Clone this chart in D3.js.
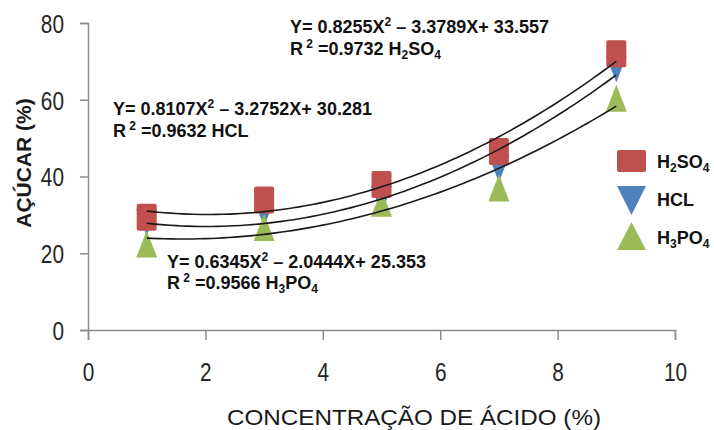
<!DOCTYPE html>
<html>
<head>
<meta charset="utf-8">
<script src="https://cdn.jsdelivr.net/npm/d3@7"></script>
<style>
  html, body { margin: 0; padding: 0; background: #fff; }
  svg { display: block; }
</style>
</head>
<body>
<svg id="chart" width="714" height="430"></svg>
<script>
// ---- data ----
const concentrations = [1, 3, 5, 7, 9];
const h2so4 = [29.4, 33.9, 37.9, 46.5, 72.0];
const hcl = [28.0, 30.5, 34.0, 42.0, 68.0];
const h3po4 = [22.4, 26.7, 33.0, 37.0, 60.4];
const coefH2SO4 = [0.8255, -3.3789, 33.557];
const coefHCL = [0.8107, -3.2752, 30.281];
const coefH3PO4 = [0.6345, -2.0444, 25.353];
const xTicks = [0, 2, 4, 6, 8, 10];
const yTicks = [0, 20, 40, 60, 80];
const xTitle = "CONCENTRAÇÃO DE ÁCIDO (%)";
const yTitle = "AÇÚCAR (%)";

const svg = d3.select("#chart");
const x = d3.scaleLinear().domain([0, 10]).range([88, 675]);
const y = d3.scaleLinear().domain([0, 80]).range([330, 23]);

const axisColor = "#8c8c8c";
const tickFont = "'Liberation Sans', Arial, sans-serif";
const narrow = 0.8;

// y axis
const yAxis = svg.append("g").attr("transform", `translate(${x(0)},0)`)
  .call(d3.axisLeft(y).tickValues(yTicks).tickSize(8).tickPadding(16));
yAxis.select(".domain").attr("stroke", axisColor).attr("stroke-width", 1.5);
yAxis.selectAll(".tick line").attr("stroke", axisColor).attr("stroke-width", 1.5);
yAxis.selectAll(".tick text").attr("font-family", tickFont).attr("font-size", 26)
  .attr("fill", "#262626").attr("dy", "0.36em")
  .attr("x", -24 / narrow).attr("transform", `scale(${narrow},1)`);

// x axis
const xAxis = svg.append("g").attr("transform", `translate(0,${y(0)})`)
  .call(d3.axisBottom(x).tickValues(xTicks).tickSize(10).tickPadding(23));
xAxis.select(".domain").attr("stroke", axisColor).attr("stroke-width", 1.5);
xAxis.selectAll(".tick line").attr("stroke", axisColor).attr("stroke-width", 1.5);
xAxis.selectAll(".tick text").attr("font-family", tickFont).attr("font-size", 26)
  .attr("fill", "#262626").attr("transform", `scale(${narrow},1)`);

// axis titles
svg.append("text").attr("transform", "translate(31,163) rotate(-90)")
  .attr("text-anchor", "middle").attr("font-family", "'Liberation Sans', Arial, sans-serif")
  .attr("font-weight", "bold").attr("font-size", 21).attr("fill", "#1a1a1a").text(yTitle);

svg.append("text").attr("x", 227).attr("y", 425)
  .attr("font-family", tickFont).attr("font-size", 22).attr("fill", "#1a1a1a")
  .attr("textLength", 374).attr("lengthAdjust", "spacingAndGlyphs").text(xTitle);

// markers
const colors = { h2so4: "#c0504d", hcl: "#4f81bd", h3po4: "#9bbb59" };
const mw = 21, mh = 27;
const triDown = (cx, cy, w, h) => `M${cx - w/2},${cy - h/2}L${cx + w/2},${cy - h/2}L${cx},${cy + h/2}Z`;
const triUp = (cx, cy, w, h) => `M${cx - w/2},${cy + h/2}L${cx + w/2},${cy + h/2}L${cx},${cy - h/2}Z`;

svg.append("g").selectAll("path").data(concentrations.map((c, i) => [c, hcl[i]])).join("path")
  .attr("d", d => triDown(x(d[0]), y(d[1]), mw, mh)).attr("fill", colors.hcl);
svg.append("g").selectAll("path").data(concentrations.map((c, i) => [c, h3po4[i]])).join("path")
  .attr("d", d => triUp(x(d[0]), y(d[1]), mw, mh)).attr("fill", colors.h3po4);
svg.append("g").selectAll("rect").data(concentrations.map((c, i) => [c, h2so4[i]])).join("rect")
  .attr("x", d => x(d[0]) - 10).attr("y", d => y(d[1]) - mh/2)
  .attr("width", 20).attr("height", mh).attr("rx", 2).attr("fill", colors.h2so4);

// trendlines
const line = d3.line().x(d => x(d[0])).y(d => y(d[1])).curve(d3.curveLinear);
[coefH2SO4, coefHCL, coefH3PO4].forEach(c => {
  const pts = d3.range(1, 9.001, 0.1).map(t => [t, c[0] * t * t + c[1] * t + c[2]]);
  svg.append("path").datum(pts).attr("d", line).attr("fill", "none")
    .attr("stroke", "#1a1a1a").attr("stroke-width", 1.6);
});

// equations
const eqFont = "'Liberation Sans', Arial, sans-serif";
function equation(x0, yb1, yb2, coef, name) {
  const g = svg.append("g").attr("font-family", eqFont).attr("font-size", 18)
    .attr("font-weight", "bold").attr("fill", "#111");
  const t1 = g.append("text").attr("x", x0).attr("y", yb1);
  t1.append("tspan").text(`Y= ${coef[0]}X`);
  t1.append("tspan").attr("font-size", 12).attr("dy", -7).text("2");
  t1.append("tspan").attr("dy", 7).text(` – ${Math.abs(coef[1])}X+ ${coef[2]}`);
  const t2 = g.append("text").attr("x", x0).attr("y", yb2);
  t2.append("tspan").text("R");
  t2.append("tspan").attr("font-size", 12).attr("dy", -7).text(" 2");
  t2.append("tspan").attr("dy", 7).text(` =${name.r2} `);
  name.parts.forEach(p => {
    if (p.sub) t2.append("tspan").attr("font-size", 12).attr("dy", 4).text(p.t);
    else t2.append("tspan").attr("dy", p.after ? -4 : 0).text(p.t);
  });
}
equation(290, 33, 55, coefH2SO4, { r2: "0.9732", parts: [{t: "H"}, {t: "2", sub: true}, {t: "SO", after: true}, {t: "4", sub: true}] });
equation(113, 115, 137, coefHCL, { r2: "0.9632", parts: [{t: "HCL"}] });
equation(167, 268, 289, coefH3PO4, { r2: "0.9566", parts: [{t: "H"}, {t: "3", sub: true}, {t: "PO", after: true}, {t: "4", sub: true}] });

// legend
const lg = svg.append("g");
lg.append("rect").attr("x", 617).attr("y", 150).attr("width", 29).attr("height", 22).attr("rx", 2).attr("fill", colors.h2so4);
lg.append("path").attr("d", triDown(631.5, 200.5, 29, 29)).attr("fill", colors.hcl);
lg.append("path").attr("d", triUp(631.5, 236, 29, 28)).attr("fill", colors.h3po4);
const legendItems = [
  { y: 168, parts: [{t: "H"}, {t: "2", sub: true}, {t: "SO", after: true}, {t: "4", sub: true}] },
  { y: 206, parts: [{t: "HCL"}] },
  { y: 244, parts: [{t: "H"}, {t: "3", sub: true}, {t: "PO", after: true}, {t: "4", sub: true}] }
];
legendItems.forEach(it => {
  const t = lg.append("text").attr("x", 657).attr("y", it.y).attr("font-family", eqFont)
    .attr("font-size", 18).attr("font-weight", "bold").attr("fill", "#111");
  it.parts.forEach(p => {
    if (p.sub) t.append("tspan").attr("font-size", 12).attr("dy", 4).text(p.t);
    else t.append("tspan").attr("dy", p.after ? -4 : 0).text(p.t);
  });
});
</script>
</body>
</html>
